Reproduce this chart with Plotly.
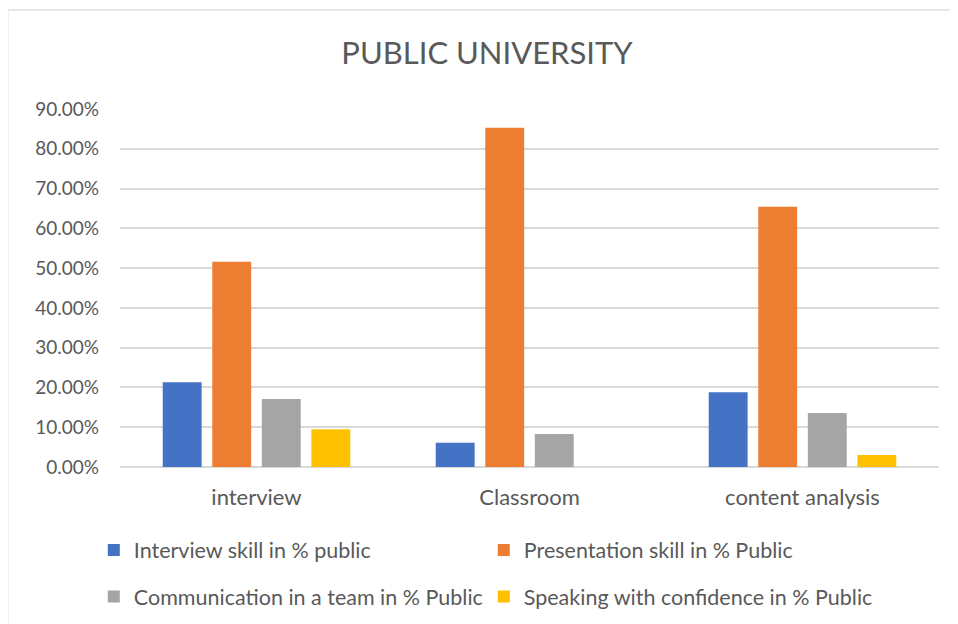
import plotly.graph_objects as go

categories = ["interview", "Classroom", "content analysis"]
series_names = [
    "Interview skill in % public",
    "Presentation skill in % Public",
    "Communication in a team in % Public",
    "Speaking with confidence in % Public",
]
interview_skill = [0.213, 0.061, 0.188]
presentation_skill = [0.516, 0.853, 0.654]
communication_team = [0.171, 0.083, 0.136]
speaking_confidence = [0.095, 0.0, 0.030]
colors = ["#4472C4", "#ED7D31", "#A5A5A5", "#FFC000"]
tick_vals = [0, 0.1, 0.2, 0.3, 0.4, 0.5, 0.6, 0.7, 0.8, 0.9]

FONT = "Lato, 'Open Sans', sans-serif"
values = [interview_skill, presentation_skill, communication_team, speaking_confidence]
legends = ["legend", "legend", "legend2", "legend2"]

fig = go.Figure()
for name, vals, col, lg in zip(series_names, values, colors, legends):
    fig.add_trace(go.Bar(x=categories, y=vals, name=name, marker_color=col,
                         marker_line_width=0, legend=lg))

leg_common = dict(orientation="h", xanchor="left", yanchor="middle",
                  font=dict(family=FONT, size=21.5, color="#595959"),
                  entrywidth=345, entrywidthmode="pixels", bgcolor="rgba(0,0,0,0)",
                  itemwidth=30, traceorder="normal")

border = dict(color="#D9D9D9", width=1.2)

fig.update_layout(
    width=958, height=624,
    paper_bgcolor="white", plot_bgcolor="white",
    margin=dict(l=112, r=27, t=101, b=165),
    title=dict(text="PUBLIC UNIVERSITY", x=0.5, xanchor="center", y=0.928, yanchor="middle",
               font=dict(family=FONT, size=31, color="#595959")),
    barmode="group", bargap=0.274, bargroupgap=0.215,
    font=dict(family=FONT, color="#595959"),
    xaxis=dict(showgrid=False, showline=False, ticks="", ticklabelstandoff=15,
               tickfont=dict(family=FONT, size=22, color="#595959")),
    yaxis=dict(range=[0, 0.9], tickvals=tick_vals, tickformat=".2%",
               showgrid=True, gridcolor="#D9D9D9", gridwidth=1.5,
               zeroline=True, zerolinecolor="#D9D9D9", zerolinewidth=1.5,
               showline=False, ticks="", ticklen=0, ticklabelstandoff=20,
               tickfont=dict(family=FONT, size=19, color="#595959")),
    legend=dict(x=-0.032, y=-0.232, **leg_common),
    legend2=dict(x=-0.032, y=-0.362, **leg_common),
    shapes=[
        dict(type="line", xref="paper", yref="paper",
             x0=-0.137, x1=-0.137, y0=-0.46, y1=1.277, line=border, layer="below"),
        dict(type="line", xref="paper", yref="paper",
             x0=-0.137, x1=1.022, y0=1.277, y1=1.277, line=border, layer="below"),
    ],
)

fig.write_html("out.html")
